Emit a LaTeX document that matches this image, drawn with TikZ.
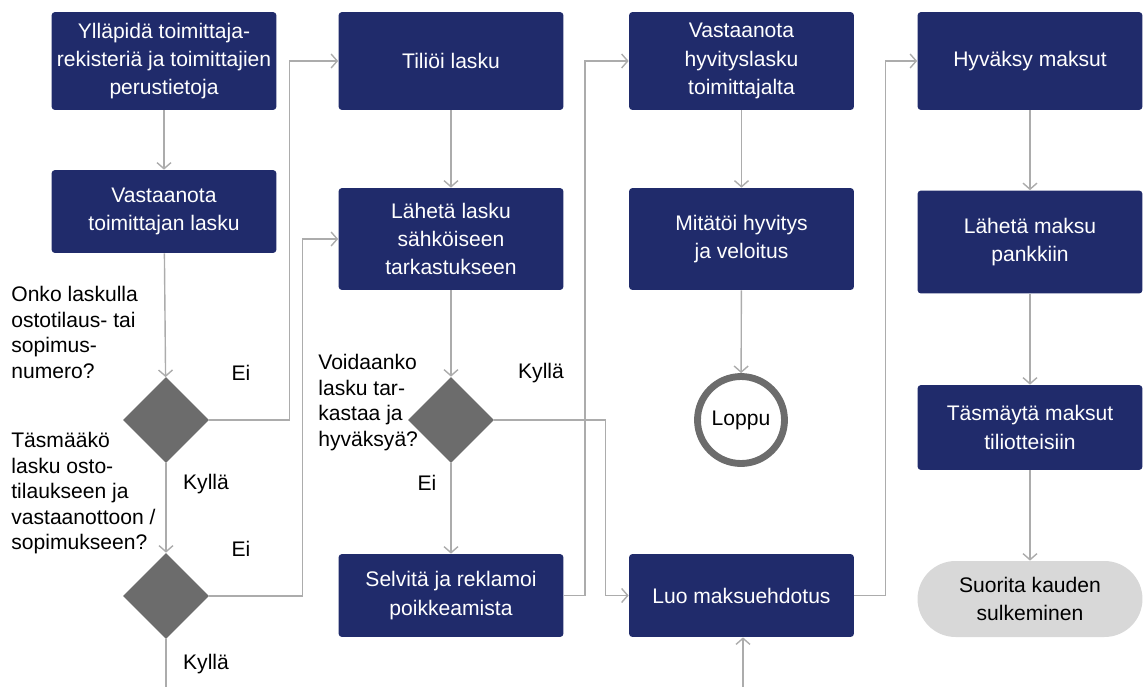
\documentclass[tikz,border=0pt]{standalone}
\usepackage{fontspec}
\setmainfont{Liberation Sans}
\usetikzlibrary{shapes.geometric,arrows.meta}
\definecolor{boxblue}{RGB}{32,43,107}
\definecolor{linegray}{RGB}{172,172,172}
\definecolor{diagray}{RGB}{108,108,108}
\definecolor{endgray}{RGB}{216,216,216}
\begin{document}
\begin{tikzpicture}[x=0.02cm,y=-0.02cm,>={Straight Barb[length=3.5pt,width=8pt]},
  box/.style={fill=boxblue,text=white,rounded corners=2pt,minimum width=4.5cm,inner sep=0pt,align=center,font=\fontsize{12}{16}\selectfont},
  dia/.style={diamond,fill=diagray,minimum size=1.72cm,inner sep=0pt},
  qtext/.style={anchor=north west,align=left,inner sep=0pt,font=\fontsize{12}{14.5}\selectfont},
  lbl/.style={inner sep=0pt,font=\fontsize{12}{14.5}\selectfont},
  conn/.style={draw=linegray,line width=0.8pt}]

\useasboundingbox (0,0) rectangle (1144,687);

% column 1
\node[box,minimum height=1.96cm] (yllapida) at (164,61) {Ylläpidä toimittaja-\\rekisteriä ja toimittajien\\perustietoja};
\node[box,minimum height=1.66cm] (vastaanota) at (164,211.5) {Vastaanota\\toimittajan lasku};
\node[dia] (d1) at (166,420) {};
\node[dia] (d2) at (166,596) {};
\node[qtext] (q1) at (11,286) {Onko laskulla\\ostotilaus- tai\\sopimus-\\numero?};
\node[qtext] (q2) at (11,432) {Täsmääkö\\lasku osto-\\tilaukseen ja\\vastaanottoon /\\sopimukseen?};
\node[lbl] (ei1) at (241,373) {Ei};
\node[lbl] (kylla1) at (206,484) {Kyllä};
\node[lbl] (ei2) at (241,549) {Ei};
\node[lbl] (kylla2) at (206,664) {Kyllä};

% column 2
\node[box,minimum height=1.96cm] (tilioi) at (451,61) {Tiliöi lasku};
\node[box,minimum height=2.04cm] (laheta) at (451,239) {Lähetä lasku\\sähköiseen\\tarkastukseen};
\node[dia] (d3) at (451,420) {};
\node[qtext] (q3) at (318,354) {Voidaanko\\lasku tar-\\kastaa ja\\hyväksyä?};
\node[lbl] (kylla3) at (541,373) {Kyllä};
\node[lbl] (ei3) at (427,483) {Ei};
\node[box,minimum height=1.66cm] (selvita) at (451,595.5) {Selvitä ja reklamoi\\poikkeamista};

% column 3
\node[box,minimum height=1.96cm] (hyvityslasku) at (741.5,61) {Vastaanota\\hyvityslasku\\toimittajalta};
\node[box,minimum height=2.04cm] (mitatoi) at (741.5,239) {Mitätöi hyvitys\\ja veloitus};
\node[circle,draw=diagray,line width=3.9pt,minimum size=1.74cm,inner sep=0pt,font=\fontsize{12}{14.5}\selectfont] (loppu) at (741,420) {Loppu};
\node[box,minimum height=1.66cm] (luo) at (741.5,595.5) {Luo maksuehdotus};

% column 4
\node[box,minimum height=1.96cm] (hyvaksy) at (1030,61) {Hyväksy maksut};
\node[box,minimum height=2.06cm] (lahetamaksu) at (1030,242) {Lähetä maksu\\pankkiin};
\node[box,minimum height=1.7cm] (tasmayta) at (1030,427.5) {Täsmäytä maksut\\tiliotteisiin};
\node[fill=endgray,rounded corners=0.76cm,minimum width=4.5cm,minimum height=1.52cm,inner sep=0pt,align=center,font=\fontsize{12}{16}\selectfont] (suorita) at (1030,599) {Suorita kauden\\sulkeminen};

\coordinate (bot1) at (166,687);
\coordinate (bot2) at (743,687);

\draw[conn,->] (yllapida) -- (vastaanota);
\draw[conn,->] (vastaanota) -- (d1);
\draw[conn,->] (d1.east) -- ++(80,0) |- (tilioi.west);
\draw[conn,->] (d1.south) -- (d2.north);
\draw[conn,->] (d2.east) -- ++(93,0) |- (laheta.west);
\draw[conn] (d2.south) -- (bot1);

\draw[conn,->] (tilioi) -- (laheta);
\draw[conn,->] (laheta) -- (d3);
\draw[conn,->] (d3.south) -- (selvita.north);
\draw[conn,->] (d3.east) -- ++(111,0) |- (luo.west);
\draw[conn,->] (selvita.east) -- ++(21,0) |- (hyvityslasku.west);

\draw[conn,->] (hyvityslasku) -- (mitatoi);
\draw[conn,->] (mitatoi) -- (loppu);
\draw[conn,->] (bot2) -- (luo.south -| bot2);
\draw[conn,->] (luo.east) -- ++(31,0) |- (hyvaksy.west);

\draw[conn,->] (hyvaksy) -- (lahetamaksu);
\draw[conn,->] (lahetamaksu) -- (tasmayta);
\draw[conn,->] (tasmayta) -- (suorita);

\end{tikzpicture}
\end{document}
